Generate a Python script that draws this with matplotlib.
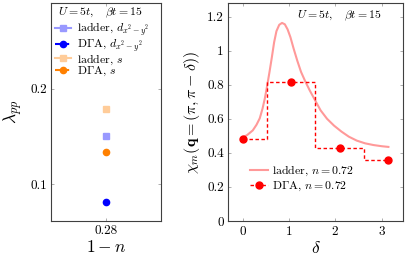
import matplotlib
matplotlib.use("Agg")
import matplotlib.pyplot as plt
from matplotlib.lines import Line2D

plt.rcParams['font.family'] = 'serif'
plt.rcParams['font.serif'] = ['cmr10', 'DejaVu Serif']
plt.rcParams['mathtext.fontset'] = 'cm'
plt.rcParams['axes.formatter.use_mathtext'] = True

# ---- left panel data ----
hole_doping = [0.28]
lam_ladder_d = [0.1505]
lam_dga_d = [0.0814]
lam_ladder_s = [0.179]
lam_dga_s = [0.134]
left_xticks = [0.28]
left_yticks = [0.1, 0.2]

# ---- right panel data ----
delta_ladder = [0.0, 0.10, 0.22, 0.30, 0.37, 0.43, 0.48, 0.53, 0.58, 0.63, 0.68, 0.73,
                0.79, 0.85, 0.91, 0.97, 1.03, 1.10, 1.18, 1.26, 1.35, 1.45, 1.55, 1.68,
                1.82, 1.97, 2.13, 2.29, 2.46, 2.64, 2.82, 3.00, 3.1416]
chi_ladder = [0.490, 0.505, 0.532, 0.565, 0.603, 0.660, 0.720, 0.795, 0.875, 0.960, 1.050, 1.115,
              1.152, 1.163, 1.155, 1.125, 1.080, 1.012, 0.940, 0.875, 0.820, 0.765, 0.715, 0.650,
              0.600, 0.560, 0.525, 0.495, 0.472, 0.456, 0.446, 0.439, 0.435]
delta_dga = [0.0, 1.0472, 2.0944, 3.1416]
chi_dga = [0.48, 0.818, 0.427, 0.356]
right_xticks = [0, 1, 2, 3]
right_yticks = [0, 0.2, 0.4, 0.6, 0.8, 1.0, 1.2]
right_yticklabels = ['0', '0.2', '0.4', '0.6', '0.8', '1', '1.2']

DASH = (2.5, 1.8)

fig = plt.figure(figsize=(4.07, 2.61), dpi=100)
axL = fig.add_axes([51/407, 1-221/261, 110/407, 218/261])
axR = fig.add_axes([228/407, 1-221/261, 175/407, 218/261])

for ax in (axL, axR):
    for s in ax.spines.values():
        s.set_color('#404040')
        s.set_linewidth(0.8)
    ax.tick_params(direction='in', length=2.5, width=0.6, color='#a0a0a0',
                   top=True, right=True, labelsize=9.5, pad=3)

# left
axL.plot(hole_doping, lam_ladder_d, ls='-', color='#9999ff', marker='s', ms=4.5,
         label=r'ladder, $d_{x^2-y^2}$')
axL.plot(hole_doping, lam_dga_d, ls='--', dashes=DASH, color='#0000ff', marker='o', ms=4.5,
         label=r'D$\Gamma$A, $d_{x^2-y^2}$')
axL.plot(hole_doping, lam_ladder_s, ls='-', color='#ffcc99', marker='s', ms=4.5,
         label=r'ladder, $s$')
axL.plot(hole_doping, lam_dga_s, ls='--', dashes=DASH, color='#ff8000', marker='o', ms=4.5,
         label=r'D$\Gamma$A, $s$')
axL.set_xlim(0.18, 0.38)
axL.set_ylim(0.0615, 0.290)
axL.set_xticks(left_xticks)
axL.set_xticklabels(['0.28'])
axL.set_yticks(left_yticks)
axL.set_yticklabels(['0.1', '0.2'])
axL.set_xlabel(r'$1-n$', fontsize=12.5, labelpad=1)
axL.set_ylabel(r'$\lambda_{pp}$', fontsize=12.5, labelpad=4)
axL.text(0.064, 0.957, r'$U=5t,\quad \beta t=15$', transform=axL.transAxes,
         fontsize=8.5, va='center', ha='left')
axL.legend(loc='upper left', bbox_to_anchor=(0.036, 0.918), frameon=False, fontsize=8.5,
           handlelength=1.4, handletextpad=0.45, labelspacing=-0.12, borderaxespad=0,
           borderpad=0)

# right
axR.plot(delta_ladder, chi_ladder, '-', color='#ff9999', lw=1.5)
axR.step(delta_dga, chi_dga, where='mid', ls='--', dashes=DASH, color='#ff0000', lw=1.0)
axR.plot(delta_dga, chi_dga, color='#ff0000', marker='o', ms=5, linestyle='none')
axR.set_xlim(-0.314, 3.456)
axR.set_ylim(0, 1.28)
axR.set_xticks(right_xticks)
axR.set_yticks(right_yticks)
axR.set_yticklabels(right_yticklabels)
axR.set_xlabel(r'$\delta$', fontsize=12.5, labelpad=1)
axR.set_ylabel(r'$\chi_m(\mathbf{q}=(\pi,\pi-\delta))$', fontsize=11.5, labelpad=4)
axR.text(0.394, 0.940, r'$U=5t,\quad \beta t=15$', transform=axR.transAxes,
         fontsize=8.5, va='center', ha='left')
h1 = Line2D([], [], color='#ff9999', lw=1.5)
h2 = Line2D([], [], color='#ff0000', lw=1.0, ls='--', dashes=DASH, marker='o', ms=5)
axR.legend([h1, h2], [r'ladder, $n=0.72$', r'D$\Gamma$A, $n=0.72$'],
           loc='upper left', bbox_to_anchor=(0.126, 0.262), frameon=False, fontsize=8.5,
           handlelength=1.5, handletextpad=0.35, labelspacing=0.15, borderaxespad=0,
           borderpad=0)

fig.savefig('out.png', dpi=100)
